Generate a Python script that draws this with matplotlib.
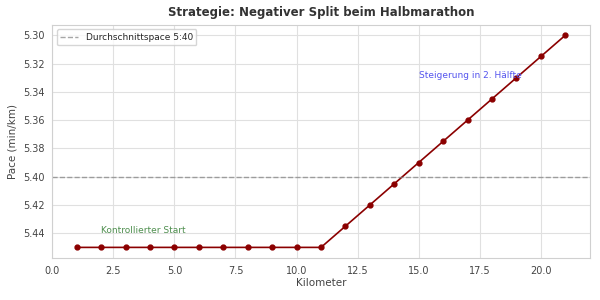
import matplotlib
matplotlib.use('Agg')
import matplotlib.pyplot as plt
import seaborn as sns

# Daten
kilometer = list(range(1, 22))
pace = [5.45] * 11 + [5.435, 5.42, 5.405, 5.39, 5.375, 5.36, 5.345, 5.33, 5.315, 5.30]
avg_pace = 5.40
avg_label = 'Durchschnittspace 5:40'
title = 'Strategie: Negativer Split beim Halbmarathon'

sns.set_style('whitegrid', {'grid.color': '#e0e0e0', 'axes.edgecolor': '#d0d0d0'})
plt.rcParams['font.family'] = ['DejaVu Sans']

fig, ax = plt.subplots(figsize=(6, 3), dpi=100)
ax.plot(kilometer, pace, color='darkred', marker='o', markersize=3.5, linewidth=1.2)
ax.axhline(avg_pace, color='gray', linestyle='--', linewidth=1, alpha=0.7, label=avg_label)
ax.invert_yaxis()

ax.text(2, 5.44, 'Kontrollierter Start', color='#4f8f4f', fontsize=6.5)
ax.text(15, 5.33, 'Steigerung in 2. Hälfte', color='#5555ee', fontsize=6.5)

ax.set_title(title, fontsize=8.5, fontweight='bold', color='#333333')
ax.set_xlabel('Kilometer', fontsize=7.5, color='#444444', labelpad=2)
ax.set_ylabel('Pace (min/km)', fontsize=7.5, color='#444444')
ax.tick_params(labelsize=7, colors='#444444', pad=2)
ax.legend(loc='upper left', fontsize=6.5)

fig.subplots_adjust(left=0.087, right=0.983, top=0.918, bottom=0.14)
fig.savefig('out.png', dpi=100)
